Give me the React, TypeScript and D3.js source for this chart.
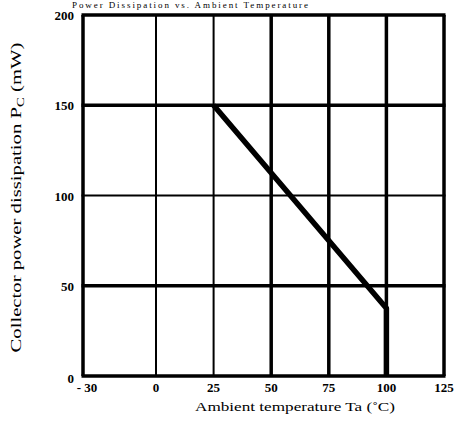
import React from 'react';
import * as d3 from 'd3';

// tick values
const xTicks = [-30, 0, 25, 50, 75, 100, 125];
const xTickLabels = ['- 30', '0', '25', '50', '75', '100', '125'];
const yTicks = [0, 50, 100, 150, 200];
// which grid lines are printed heavy
const heavyX = [-30, 50, 75, 100, 125];
const heavyY = [0, 50, 150, 200];

// derating curve: Ta (°C) vs Pc (mW)
const curveTa = [25, 100, 100];
const curvePc = [150, 37.5, 0];

const W = 462, H = 430;
const serif = '"Liberation Serif", "DejaVu Serif", serif';

export default function App() {
  // the -30 column is printed a little wider than the others
  const x = d3.scaleLinear().domain([-30, 0, 125]).range([83, 156, 444]);
  const y = d3.scaleLinear().domain([0, 200]).range([376, 15]);

  const pts: [number, number][] = curveTa.map((t, i) => [t, curvePc[i]]);
  const line = d3.line<[number, number]>()
    .x(d => x(d[0]))
    .y(d => y(d[1]));

  return (
    <svg width={W} height={H} style={{ position: 'absolute', left: 0, top: 0, background: '#fff' }}>
      <rect width={W} height={H} fill="#fff" />
      {/* title, mostly cut off at the top of the scan */}
      <text x={190} y={8} textAnchor="middle" fontFamily={serif} fontSize={9}
        textLength={236} lengthAdjust="spacing">Power Dissipation vs. Ambient Temperature</text>

      {xTicks.map(t => (
        <line key={'x' + t} x1={x(t)} x2={x(t)} y1={y(0)} y2={y(200)}
          stroke="#000" strokeWidth={heavyX.includes(t) ? 3.5 : 2} />
      ))}
      {yTicks.map(t => (
        <line key={'y' + t} x1={x(-30) - 1.5} x2={x(125) + 1.5} y1={y(t)} y2={y(t)}
          stroke="#000" strokeWidth={heavyY.includes(t) ? 3.5 : 2} />
      ))}

      <path d={line(pts) || ''} fill="none" stroke="#000" strokeWidth={5.5} strokeLinejoin="round" />

      {/* tick labels */}
      {yTicks.map(t => (
        <text key={'yl' + t} x={x(-30) - 9} y={y(t) + (t === 0 ? 7 : 5)} textAnchor="end"
          fontFamily={serif} fontSize={13} fontWeight="bold">{t}</text>
      ))}
      {xTicks.map((t, i) => (
        <text key={'xl' + t} x={x(t) + (i === 0 ? 4 : 0)} y={392} textAnchor="middle"
          fontFamily={serif} fontSize={13} fontWeight="bold">{xTickLabels[i]}</text>
      ))}

      {/* axis titles */}
      <text x={295} y={411} textAnchor="middle" fontFamily={serif} fontSize={13}
        textLength={200} lengthAdjust="spacingAndGlyphs">Ambient temperature Ta (˚C)</text>
      <text transform={`translate(21,${(40 + 355) / 2}) rotate(-90)`} textAnchor="middle"
        fontFamily={serif} fontSize={14} textLength={310} lengthAdjust="spacingAndGlyphs">
        Collector power dissipation P<tspan fontSize={10} dy={3}>C</tspan><tspan dy={-3}> (mW)</tspan>
      </text>
    </svg>
  );
}
